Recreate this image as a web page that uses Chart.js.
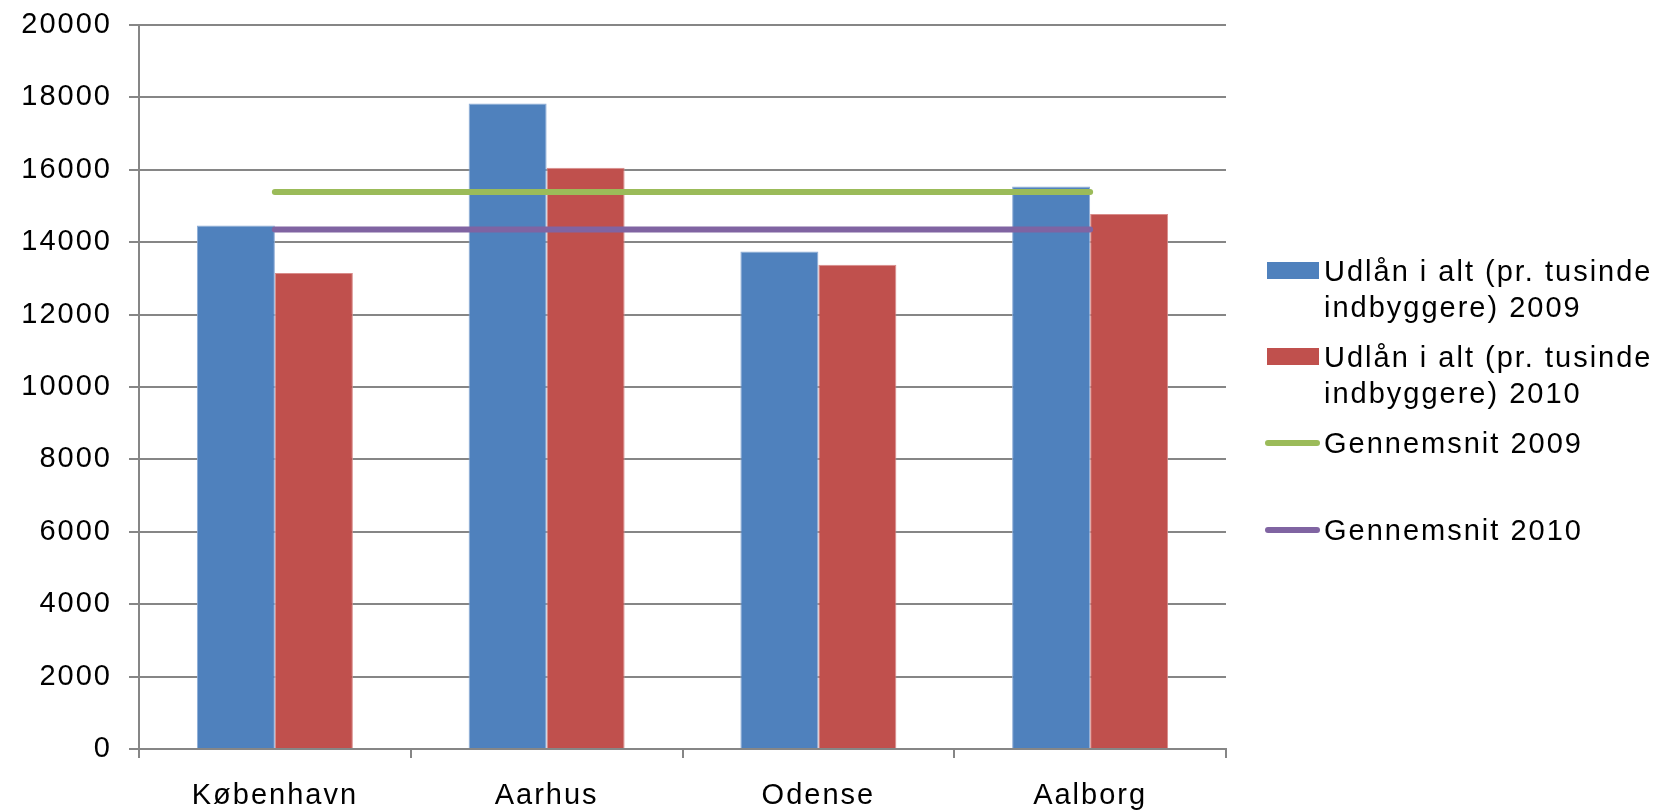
<!DOCTYPE html>
<html>
<head>
<meta charset="utf-8">
<script src="https://cdn.jsdelivr.net/npm/chart.js@4.4.1/dist/chart.umd.min.js"></script>
<style>
  html, body { margin: 0; padding: 0; background: #fff; }
  #wrap { position: relative; width: 1662px; height: 811px; overflow: hidden; }
  #legend .item {
    position: absolute;
    left: 1265px;
    font-family: "Liberation Sans", Arial, sans-serif;
    font-size: 29px;
    letter-spacing: 2px;
    line-height: 36px;
    color: #000;
    white-space: pre;
  }
  #legend .box { position: absolute; left: 2px; top: 9px; width: 52px; height: 17px; }
  #legend .line { position: absolute; left: 0; top: 15px; width: 55px; height: 6px; border-radius: 3px; }
  #legend .text { margin-left: 59px; }
</style>
</head>
<body>
<div id="wrap">
  <canvas id="chart"></canvas>
  <div id="legend"></div>
</div>
<script>
const cities = ["København", "Aarhus", "Odense", "Aalborg"];
const loans2009 = [14460, 17830, 13740, 15540];
const loans2010 = [13150, 16060, 13380, 14780];
const avg2009 = [15390, 15390, 15390, 15390];
const avg2010 = [14350, 14350, 14350, 14350];
const yTicks = [0, 2000, 4000, 6000, 8000, 10000, 12000, 14000, 16000, 18000, 20000];

const labels = [
  "Udlån i alt (pr. tusinde\nindbyggere) 2009",
  "Udlån i alt (pr. tusinde\nindbyggere) 2010",
  "Gennemsnit 2009",
  "Gennemsnit 2010",
];

const colors = ["#4F81BD", "#C0504D", "#9BBB59", "#8064A2"];
const gridColor = "#868686";
const font = { family: "'Liberation Sans', Arial, sans-serif", size: 29 };

// excel-style wide text on the canvas
const spacingPlugin = {
  id: "spacing",
  beforeUpdate(chart) { chart.ctx.letterSpacing = "2px"; },
  beforeDraw(chart) { chart.ctx.letterSpacing = "2px"; },
};

function renderChart() {
  const ctx = document.getElementById("chart").getContext("2d");

  const datasets = [
    { type: "bar", label: labels[0], data: loans2009, backgroundColor: colors[0],
      borderColor: "#8EACD6", borderWidth: 1, order: 2 },
    { type: "bar", label: labels[1], data: loans2010, backgroundColor: colors[1],
      borderColor: "#D98C8A", borderWidth: 1, order: 2 },
    { type: "line", label: labels[2], data: avg2009, borderColor: colors[2],
      borderWidth: 6, borderCapStyle: "round", pointRadius: 0, order: 1 },
    { type: "line", label: labels[3], data: avg2010, borderColor: colors[3],
      borderWidth: 6, borderCapStyle: "round", pointRadius: 0, order: 1 },
  ];

  new Chart(ctx, {
    data: { labels: cities, datasets: datasets },
    plugins: [spacingPlugin],
    options: {
      responsive: true,
      maintainAspectRatio: false,
      animation: false,
      datasets: { bar: { categoryPercentage: 0.574, barPercentage: 1.0 } },
      layout: { padding: { top: 25, right: 436, bottom: 0, left: 0 } },
      plugins: { legend: { display: false }, tooltip: { enabled: false } },
      scales: {
        x: {
          offset: true,
          afterFit(scale) {
            scale.height = 62;
            scale.paddingLeft = 0;
            scale.paddingRight = 0;
          },
          grid: { offset: true, drawOnChartArea: false, drawTicks: true, tickLength: 9,
                  color: gridColor, lineWidth: 2 },
          border: { display: true, color: gridColor, width: 2 },
          ticks: { color: "#000", font: font, padding: 21, maxRotation: 0 },
        },
        y: {
          min: 0,
          max: 20000,
          afterFit(scale) {
            scale.width = 139;
            scale.paddingTop = 0;
            scale.paddingBottom = 0;
          },
          afterBuildTicks(scale) { scale.ticks = yTicks.map((v) => ({ value: v })); },
          grid: { color: gridColor, lineWidth: 2, drawTicks: true, tickLength: 10 },
          border: { display: true, color: gridColor, width: 2 },
          ticks: { color: "#000", font: font, padding: 17, callback: (v) => String(v) },
        },
      },
    },
  });
}

function renderLegend() {
  const legendDiv = document.getElementById("legend");
  const tops = [253, 339, 425, 512];

  labels.forEach((text, idx) => {
    const item = document.createElement("div");
    item.classList.add("item");
    item.style.top = tops[idx] + "px";

    const mark = document.createElement("div");
    mark.classList.add(idx < 2 ? "box" : "line");
    mark.style.background = colors[idx];
    item.appendChild(mark);

    const label = document.createElement("div");
    label.classList.add("text");
    label.innerText = text;
    item.appendChild(label);

    legendDiv.appendChild(item);
  });
}

renderChart();
renderLegend();
</script>
</body>
</html>
